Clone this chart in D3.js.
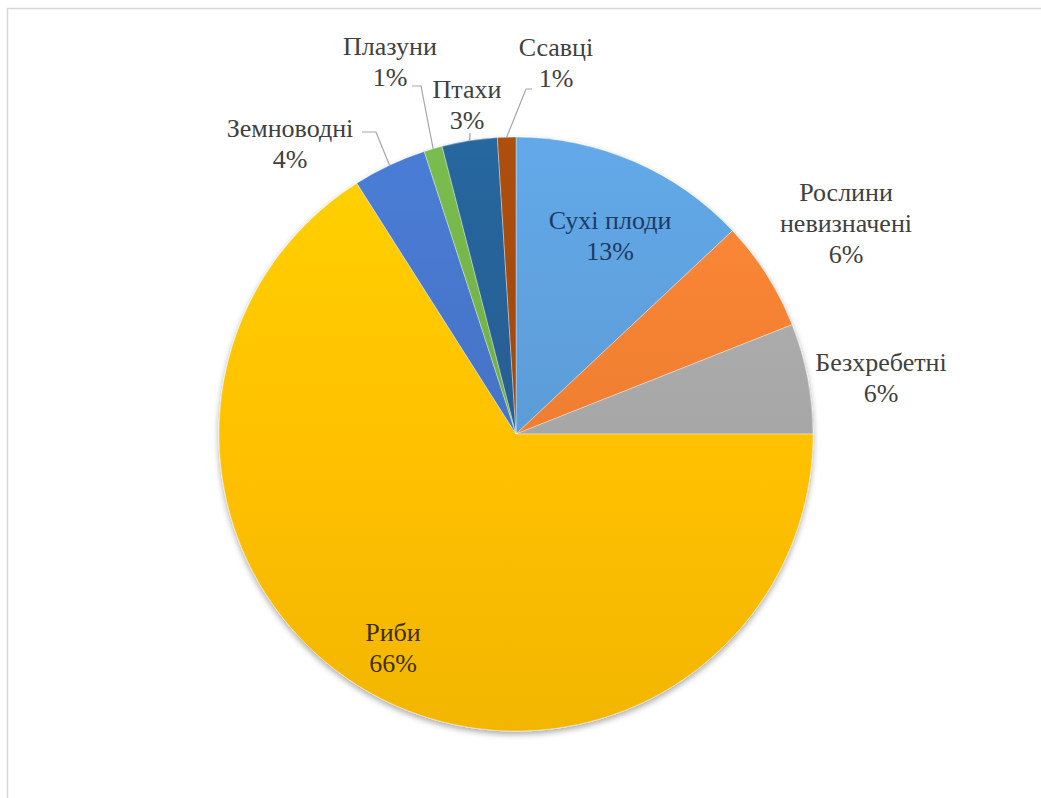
<!DOCTYPE html>
<html>
<head>
<meta charset="utf-8">
<script src="https://cdn.jsdelivr.net/npm/d3@7"></script>
<style>
  html, body { margin: 0; padding: 0; background: #ffffff; }
  svg { display: block; }
</style>
</head>
<body>
<svg id="chart" width="1041" height="798"></svg>
<script>
// Diet composition, share of items (%)
const categories = ["Сухі плоди", "Рослини невизначені", "Безхребетні", "Риби",
                    "Земноводні", "Плазуни", "Птахи", "Ссавці"];
const shares = [13, 6, 6, 66, 4, 1, 3, 1];
const labelLines = [["Сухі плоди"], ["Рослини", "невизначені"], ["Безхребетні"], ["Риби"],
                    ["Земноводні"], ["Плазуни"], ["Птахи"], ["Ссавці"]];

// Office palette per slice
const colors = ["#5B9BD5", "#ED7D31", "#A5A5A5", "#FFC000",
                "#4472C4", "#70AD47", "#255E91", "#9E480E"];

// Label block centres, relative to the pie centre
const labelOffset = [[94, -199], [330, -211], [365, -57], [-123, 213],
                     [-226, -291], [-126, -373], [-49, -330], [40, -372]];
// Leader lines: start and elbow relative to the label centre (null = no leader)
const leaders = [null, null, null, null,
                 [[72, -11], [86, -11]],
                 [[22, 25], [31, 25]],
                 [[3, 29], null],
                 [[-24, 27], [-30, 27]]];
const textColor = ["#203a61", "#404040", "#404040", "#3d3000",
                   "#404040", "#404040", "#404040", "#404040"];

const W = 1041, H = 798;
const cx = 516, cy = 434, R = 297;
const fontSize = 26, lineGap = 31;
const fontFamily = "Liberation Serif, DejaVu Serif, serif";

const svg = d3.select("#chart");
const defs = svg.append("defs");

// chart frame
svg.append("rect")
  .attr("x", 7.5).attr("y", 8.5)
  .attr("width", W + 20).attr("height", H + 20)
  .attr("fill", "#ffffff")
  .attr("stroke", "#d9d9d9").attr("stroke-width", 1.5);

// soft shadow under the pie
const shadow = defs.append("filter").attr("id", "pieShadow")
  .attr("x", "-10%").attr("y", "-10%").attr("width", "120%").attr("height", "120%");
shadow.append("feGaussianBlur").attr("in", "SourceAlpha").attr("stdDeviation", 3).attr("result", "b");
shadow.append("feOffset").attr("in", "b").attr("dx", 0).attr("dy", 3).attr("result", "o");
shadow.append("feComponentTransfer").attr("in", "o").attr("result", "s")
  .append("feFuncA").attr("type", "linear").attr("slope", 0.35);
const merge = shadow.append("feMerge");
merge.append("feMergeNode").attr("in", "s");
merge.append("feMergeNode").attr("in", "SourceGraphic");

// vertical gradient per slice: lighter at top, base colour lower down
colors.forEach((c, i) => {
  const g = defs.append("linearGradient")
    .attr("id", "grad" + i)
    .attr("gradientUnits", "userSpaceOnUse")
    .attr("x1", 0).attr("y1", -R).attr("x2", 0).attr("y2", R);
  g.append("stop").attr("offset", "0%").attr("stop-color", d3.color(c).brighter(0.25).formatHex());
  g.append("stop").attr("offset", "55%").attr("stop-color", c);
  g.append("stop").attr("offset", "100%").attr("stop-color", d3.color(c).darker(0.15).formatHex());
});

const data = categories.map((name, i) => ({ name, value: shares[i], i }));

const pie = d3.pie().sort(null).value(d => d.value)
  .startAngle(0).endAngle(2 * Math.PI);
const arcs = pie(data);

const arc = d3.arc().innerRadius(0).outerRadius(R);
const edgeArc = d3.arc().innerRadius(R).outerRadius(R);

const g = svg.append("g").attr("transform", `translate(${cx},${cy})`);

g.append("g").attr("filter", "url(#pieShadow)")
  .selectAll("path")
  .data(arcs)
  .join("path")
  .attr("d", arc)
  .attr("fill", d => `url(#grad${d.data.i})`)
  .attr("stroke", "rgba(255,255,255,0.45)")
  .attr("stroke-width", 0.8);

// leader lines from label to the slice's outer edge
arcs.forEach(a => {
  const i = a.data.i;
  const L = leaders[i];
  if (!L) return;
  const [lx, ly] = labelOffset[i];
  const end = edgeArc.centroid(a);
  const pts = [[lx + L[0][0], ly + L[0][1]]];
  if (L[1]) pts.push([lx + L[1][0], ly + L[1][1]]);
  pts.push(end);
  g.append("path")
    .attr("d", d3.line()(pts))
    .attr("fill", "none")
    .attr("stroke", "#a6a6a6")
    .attr("stroke-width", 1.2);
});

// data labels: name lines followed by the percentage
const labels = g.append("g")
  .selectAll("text")
  .data(arcs)
  .join("text")
  .attr("text-anchor", "middle")
  .style("font-family", fontFamily)
  .attr("font-size", fontSize)
  .attr("fill", d => textColor[d.data.i]);

labels.each(function(d) {
  const i = d.data.i;
  const lines = labelLines[i].concat([d.data.value + "%"]);
  const [lx, ly] = labelOffset[i];
  const top = ly - (lines.length - 1) * lineGap / 2;
  const t = d3.select(this);
  lines.forEach((s, k) => {
    t.append("tspan")
      .attr("x", lx)
      .attr("y", top + k * lineGap)
      .attr("dy", "0.35em")
      .text(s);
  });
});
</script>
</body>
</html>
